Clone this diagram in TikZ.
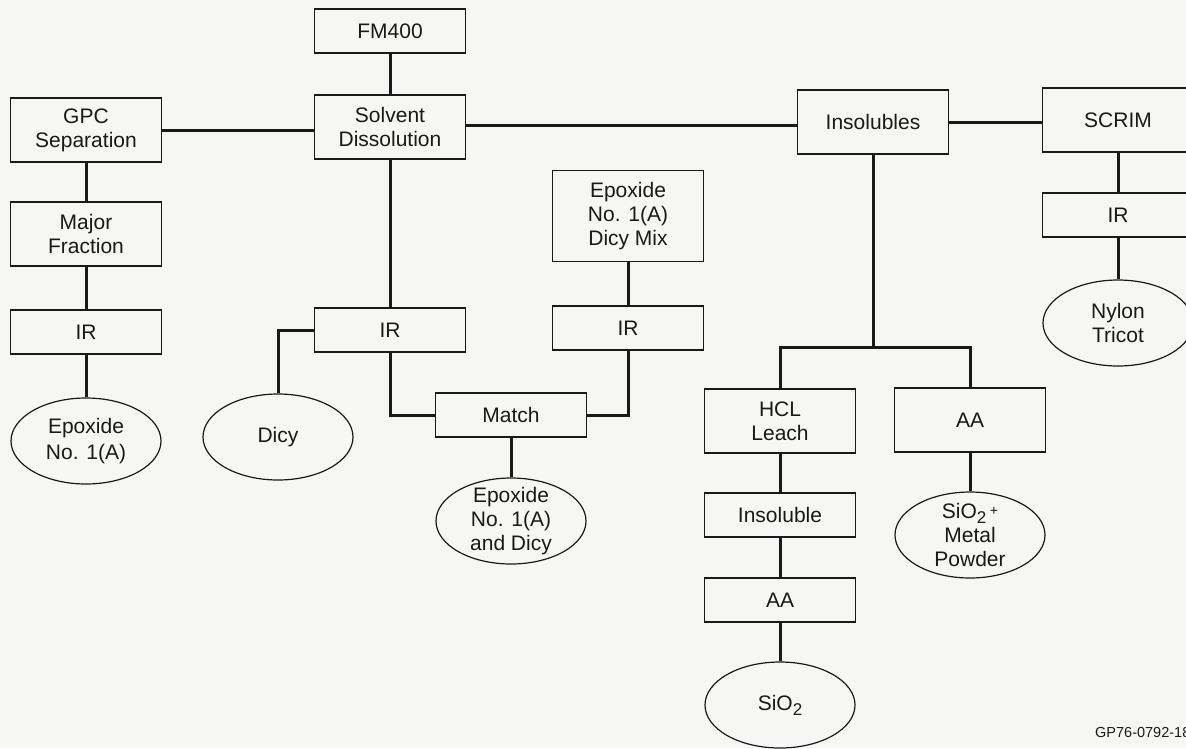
\documentclass[tikz,border=0pt]{standalone}
\usepackage{fontspec}
\setmainfont{Liberation Sans}
\usetikzlibrary{shapes.geometric}
\definecolor{paper}{RGB}{246,246,244}
\definecolor{ink}{RGB}{25,25,25}
\begin{document}
\begin{tikzpicture}[x=1pt,y=-1pt,
  box/.style={draw=ink, line width=1.3pt, minimum width=151pt, minimum height=44pt, inner sep=0pt, align=center, font=\fontsize{21}{24}\selectfont, text=ink},
  tall/.style={box, minimum height=64pt},
  taller/.style={box, minimum height=91pt},
  oval/.style={draw=ink, line width=1.2pt, ellipse, minimum width=150pt, minimum height=86pt, inner sep=0pt},
  lab/.style={align=center, font=\fontsize{21}{24}\selectfont, text=ink, inner sep=0pt},
  conn/.style={draw=ink, line width=3pt}]
\useasboundingbox[fill=paper] (0,0) rectangle (1186,748);

% left column
\node[tall] (gpc) at (86,130) {GPC\\Separation};
\node[tall] (mf) at (86,234) {Major\\Fraction};
\node[box] (irl) at (86,332) {IR};
\node[oval, label={[lab, font=\fontsize{21}{26}\selectfont]center:{Epoxide\\No. 1(A)}}] (epl) at (86,441) {};

% centre
\node[box] (fm) at (390,31) {FM400};
\node[tall] (sd) at (390,127) {Solvent\\Dissolution};
\node[box] (irm) at (390,330) {IR};
\node[oval, label={[lab]center:{Dicy}}] (dicy) at (278,437) {};
\node[box] (match) at (511,415) {Match};
\node[oval, label={[lab]center:{Epoxide\\No. 1(A)\\and Dicy}}] (epd) at (511,521) {};
\node[taller] (mix) at (628,216) {Epoxide\\No. 1(A)\\Dicy Mix};
\node[box] (irr) at (628,328) {IR};

% insolubles
\node[tall] (ins) at (873,122) {Insolubles};
\coordinate (br) at (873,347);
\node[tall] (hcl) at (780,421) {HCL\\Leach};
\node[tall] (aar) at (970,420) {AA};
\node[box] (insl) at (780,515) {Insoluble};
\node[box] (aal) at (780,600) {AA};
\node[oval, label={[lab]center:{SiO\raisebox{-5pt}{\fontsize{17}{17}\selectfont 2}}}] (sio) at (780,705) {};
\node[oval, label={[lab]center:{SiO\raisebox{-5pt}{\fontsize{17}{17}\selectfont 2}\,\raisebox{3pt}{\fontsize{14}{14}\selectfont +}\\Metal\\Powder}}] (siom) at (970,535) {};

% scrim
\node[tall] (scrim) at (1118,120) {SCRIM};
\node[box] (irs) at (1118,215) {IR};
\node[oval, label={[lab]center:{Nylon\\Tricot}}] (nyl) at (1118,323) {};

\node[anchor=west, inner sep=0pt, text=ink, font=\fontsize{14.5}{14.5}\selectfont] (gp) at (1095,732) {GP76-0792-18};

% connectors
\draw[conn] (fm) -- (sd);
\draw[conn] (gpc.east) -- (gpc.east -| sd.west);
\draw[conn] (sd.east) ++(0,-2) coordinate (sdr) -- (sdr -| ins.west);
\draw[conn] (ins.east) -- (ins.east -| scrim.west);
\draw[conn] (gpc) -- (mf);
\draw[conn] (mf) -- (irl);
\draw[conn] (irl) -- (epl);
\draw[conn] (sd) -- (irm);
\draw[conn] (irm.west) -| (dicy.north);
\draw[conn] (irm.south) |- (match.west);
\draw[conn] (mix) -- (irr);
\draw[conn] (irr.south) |- (match.east);
\draw[conn] (match) -- (epd);
\draw[conn] (ins.south) -- (br);
\draw[conn] (hcl.north) |- (br) -| (aar.north);
\draw[conn] (hcl) -- (insl);
\draw[conn] (insl) -- (aal);
\draw[conn] (aal) -- (sio);
\draw[conn] (aar) -- (siom);
\draw[conn] (scrim) -- (irs);
\draw[conn] (irs) -- (nyl);
\end{tikzpicture}
\end{document}
